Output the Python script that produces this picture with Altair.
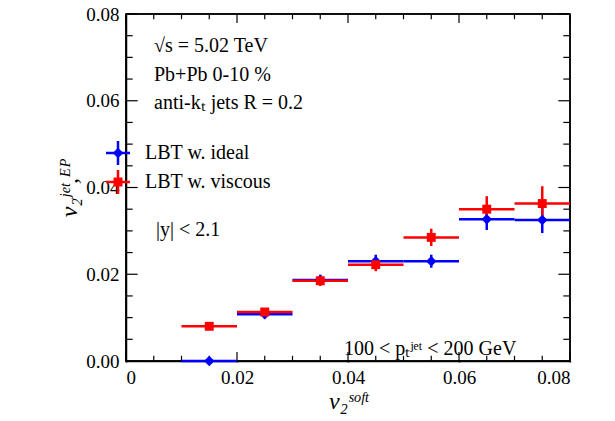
import altair as alt
import pandas as pd

x_centers = [0.015, 0.025, 0.035, 0.045, 0.055, 0.065, 0.075]
ideal_v2 = [0.0, 0.0108, 0.0187, 0.0230, 0.0230, 0.0327, 0.0325]
ideal_err = [0.0005, 0.0010, 0.0012, 0.0015, 0.0015, 0.0025, 0.0030]
visc_v2 = [0.0080, 0.0113, 0.0185, 0.0222, 0.0285, 0.0350, 0.0363]
visc_err = [0.0006, 0.0008, 0.0012, 0.0015, 0.0020, 0.0030, 0.0040]
half_bin = 0.005
major = [0, 0.02, 0.04, 0.06, 0.08]
minor = [0.005, 0.01, 0.015, 0.025, 0.03, 0.035, 0.045, 0.05, 0.055, 0.065, 0.07, 0.075]

W, H = 444, 347
FONT = "Liberation Serif"

rows = []
for name, yv, ev in [("LBT w. ideal", ideal_v2, ideal_err),
                     ("LBT w. viscous", visc_v2, visc_err)]:
    for x, y, e in zip(x_centers, yv, ev):
        rows.append(dict(series=name, x=x, xlo=x - half_bin, xhi=x + half_bin,
                         y=y, ylo=y - e, yhi=y + e))
df = pd.DataFrame(rows)

xs = alt.Scale(domain=[0, 0.08], nice=False, zero=False, padding=0)
ys = alt.Scale(domain=[0, 0.08], nice=False, zero=False, padding=0)
col = alt.Color("series:N", scale=alt.Scale(domain=["LBT w. ideal", "LBT w. viscous"],
                                            range=["#0000ff", "#ff0000"]), legend=None)
ax = dict(values=major, grid=False, titleFontStyle="italic",
          titleFontSize=24, titleFontWeight="normal", labelFontSize=19, labelPadding=6,
          labelBound=False, labelOverlap=False, domainColor="#000000", domainWidth=1.5,
          tickColor="#000000", tickWidth=1.5, tickSize=1, labelColor="#000000",
          titleColor="#000000", labelFont=FONT, titleFont=FONT)

# frame and inside ticks
frame_df = pd.DataFrame({"x0": [0.0, 0.0, 0.0, 0.08], "x1": [0.08, 0.08, 0.0, 0.08],
                         "y0": [0.0, 0.08, 0.0, 0.0], "y1": [0.0, 0.08, 0.08, 0.08]})
frame = alt.Chart(frame_df).mark_rule(strokeWidth=1.5, color="#000000").encode(
    x=alt.X("x0:Q", scale=xs, title="v₂ˢᵒᶠᵗ",
            axis=alt.Axis(labelExpr="datum.value == 0 ? '0' : format(datum.value, '.2f')",
                          titlePadding=2, **ax)),
    x2="x1:Q",
    y=alt.Y("y0:Q", scale=ys, title="v₂ʲᵉᵗ,ᴱᴾ", axis=alt.Axis(format=".2f", titlePadding=4, **ax)),
    y2="y1:Q")

tick_rows = []
for vals, ln in [(major, 0.0021), (minor, 0.0012)]:
    for v in vals:
        tick_rows += [dict(x0=v, x1=v, y0=0.0, y1=ln), dict(x0=v, x1=v, y0=0.08, y1=0.08 - ln),
                      dict(x0=0.0, x1=ln, y0=v, y1=v), dict(x0=0.08, x1=0.08 - ln, y0=v, y1=v)]
ticks = alt.Chart(pd.DataFrame(tick_rows)).mark_rule(strokeWidth=1.2, color="#000000").encode(
    x=alt.X("x0:Q", scale=xs), x2="x1:Q", y=alt.Y("y0:Q", scale=ys), y2="y1:Q")

base = alt.Chart(df)
xbar = base.mark_rule(strokeWidth=2.5).encode(
    x=alt.X("xlo:Q", scale=xs), x2="xhi:Q", y=alt.Y("y:Q", scale=ys), color=col)
ybar = base.mark_rule(strokeWidth=2.5).encode(
    x=alt.X("x:Q", scale=xs), y=alt.Y("ylo:Q", scale=ys), y2="yhi:Q", color=col)
ideal_pts = alt.Chart(df[df.series == "LBT w. ideal"]).mark_point(
    shape="diamond", filled=True, size=110, opacity=1).encode(
    x=alt.X("x:Q", scale=xs), y=alt.Y("y:Q", scale=ys), color=col)
visc_pts = alt.Chart(df[df.series == "LBT w. viscous"]).mark_point(
    shape="square", filled=True, size=80, opacity=1).encode(
    x=alt.X("x:Q", scale=xs), y=alt.Y("y:Q", scale=ys), color=col)


def label(txt, px, py, size=20):
    return alt.Chart(pd.DataFrame({"t": [txt]})).mark_text(
        align="left", baseline="middle", font=FONT, fontSize=size
    ).encode(text="t:N", x=alt.value(px), y=alt.value(py))


texts = [
    label("√s = 5.02 TeV", 28, 32),
    label("Pb+Pb 0-10 %", 28, 61),
    label("anti-kₜ jets R = 0.2", 28, 89),
    label("|y| < 2.1", 30, 216),
    label("100 < pₜʲᵉᵗ < 200 GeV", 218, 335),
    label("LBT w. ideal", 19, 139),
    label("LBT w. viscous", 19, 168),
]

legend = []
for name, py, shape, size in [("LBT w. ideal", 139, "diamond", 110),
                              ("LBT w. viscous", 168, "square", 80)]:
    d = alt.Chart(pd.DataFrame({"series": [name]}))
    legend += [
        d.mark_rule(strokeWidth=2.5).encode(x=alt.value(-20), x2=alt.value(4), y=alt.value(py), color=col),
        d.mark_rule(strokeWidth=2.5).encode(x=alt.value(-8), y=alt.value(py - 12), y2=alt.value(py + 12), color=col),
        d.mark_point(shape=shape, filled=True, size=size, opacity=1).encode(
            x=alt.value(-8), y=alt.value(py), color=col),
    ]

chart = alt.layer(frame, ticks, xbar, ybar, ideal_pts, visc_pts, *texts, *legend).properties(
    width=W, height=H, autosize=alt.AutoSizeParams(type="none"),
    padding={"left": 118, "top": 6, "right": 30, "bottom": 60}, background="white"
).configure_view(stroke="#000000", strokeWidth=1.5)

chart.save("out.html", embed_options={"renderer": "svg", "actions": False})
